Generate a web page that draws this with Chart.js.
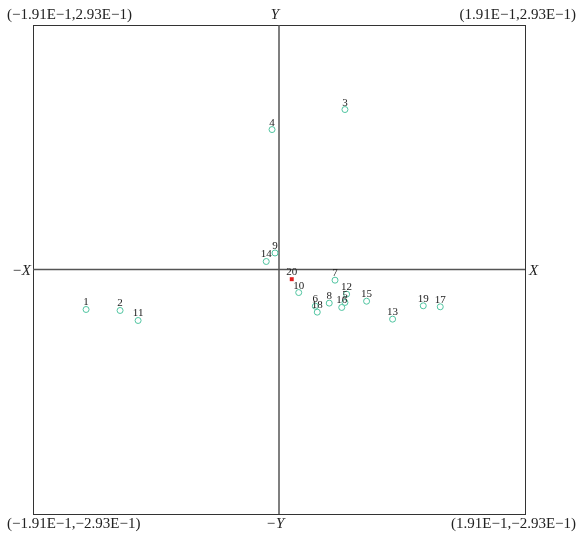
<!DOCTYPE html>
<html>
<head>
<meta charset="utf-8">
<script src="https://cdn.jsdelivr.net/npm/chart.js@4/dist/chart.umd.min.js"></script>
<style>
  html, body { margin: 0; padding: 0; background: #fff; }
  #wrap { width: 577px; height: 534px; position: relative; }
</style>
</head>
<body>
<div id="wrap"><canvas id="mainChart"></canvas></div>
<script>
const pointNames = ['1','2','3','4','5','6','7','8','9','10','11','12','13','14','15','16','17','18','19'];
const xValues = [-0.1498, -0.1234, 0.0512, -0.0054, 0.0512, 0.0282, 0.0435, 0.0390, -0.0031, 0.0153,
                 -0.1094, 0.0525, 0.0882, -0.0099, 0.0680, 0.0487, 0.1252, 0.0297, 0.1120];
const yValues = [-0.0479, -0.0491, 0.1917, 0.1677, -0.0395, -0.0440, -0.0128, -0.0403, 0.0198, -0.0276,
                 -0.0611, -0.0296, -0.0595, 0.0096, -0.0380, -0.0455, -0.0447, -0.0511, -0.0435];
const centreName = ['20'];
const centreX = [0.0099];
const centreY = [-0.0116];
const xRange = [-0.191, 0.191];
const yRange = [-0.293, 0.293];
const cornerLabels = ['(\u22121.91E\u22121,2.93E\u22121)', '(1.91E\u22121,2.93E\u22121)',
                      '(\u22121.91E\u22121,\u22122.93E\u22121)', '(1.91E\u22121,\u22122.93E\u22121)'];
const axisNames = ['X', '\u2212X', 'Y', '\u2212Y'];

const serif = '"Liberation Serif", "Times New Roman", serif';

// frame, cross and all the text
const decorPlugin = {
    id: 'decor',
    beforeDatasetsDraw(chart) {
        const ctx = chart.ctx;
        const a = chart.chartArea;
        const x0 = chart.scales.x.getPixelForValue(0);
        const y0 = chart.scales.y.getPixelForValue(0);
        ctx.save();
        ctx.strokeStyle = '#333';
        ctx.lineWidth = 1;
        ctx.strokeRect(a.left + 0.5, a.top + 0.5, a.right - a.left, a.bottom - a.top);
        ctx.strokeStyle = '#555';
        ctx.lineWidth = 1.5;
        ctx.beginPath();
        ctx.moveTo(a.left, y0); ctx.lineTo(a.right, y0);
        ctx.moveTo(x0, a.top); ctx.lineTo(x0, a.bottom);
        ctx.stroke();

        ctx.fillStyle = '#222';
        ctx.font = '15px ' + serif;
        ctx.textBaseline = 'alphabetic';
        ctx.textAlign = 'left';
        ctx.fillText(cornerLabels[0], 7, 19);
        ctx.fillText(cornerLabels[2], 7, 528);
        ctx.textAlign = 'right';
        ctx.fillText(cornerLabels[1], 576, 19);
        ctx.fillText(cornerLabels[3], 576, 528);

        ctx.font = 'italic 15px ' + serif;
        ctx.textAlign = 'left';
        ctx.fillText(axisNames[0], a.right + 4, y0 + 5);
        ctx.textAlign = 'right';
        ctx.fillText(axisNames[1], a.left - 2, y0 + 5);
        ctx.textAlign = 'center';
        ctx.fillText(axisNames[2], x0 - 4, 19);
        ctx.fillText(axisNames[3], x0 - 4, 528);
        ctx.restore();
    },
    afterDatasetsDraw(chart) {
        const ctx = chart.ctx;
        ctx.save();
        ctx.fillStyle = '#222';
        ctx.font = '11px ' + serif;
        ctx.textAlign = 'center';
        ctx.textBaseline = 'alphabetic';
        chart.data.datasets.forEach((ds, i) => {
            const meta = chart.getDatasetMeta(i);
            meta.data.forEach((pt, j) => {
                ctx.fillText(ds.names[j], pt.x, pt.y - 4);
            });
        });
        ctx.restore();
    }
};

function initializeChart() {
    const ctx = document.getElementById('mainChart').getContext('2d');
    new Chart(ctx, {
        type: 'scatter',
        data: {
            datasets: [{
                label: 'points',
                names: pointNames,
                data: xValues.map((x, i) => ({ x: x, y: yValues[i] })),
                pointStyle: 'circle',
                pointRadius: 3,
                borderWidth: 1,
                borderColor: '#4fc4a0',
                backgroundColor: '#fff'
            }, {
                label: 'centre',
                names: centreName,
                data: centreX.map((x, i) => ({ x: x, y: centreY[i] })),
                pointStyle: 'rect',
                pointRadius: 2.8,
                borderWidth: 0,
                borderColor: '#e02020',
                backgroundColor: '#e02020'
            }]
        },
        options: {
            responsive: true,
            maintainAspectRatio: false,
            animation: false,
            layout: { padding: { left: 33, right: 52, top: 25, bottom: 20 } },
            plugins: { legend: { display: false }, tooltip: { enabled: false } },
            scales: {
                x: { type: 'linear', min: xRange[0], max: xRange[1], display: false },
                y: { type: 'linear', min: yRange[0], max: yRange[1], display: false }
            }
        },
        plugins: [decorPlugin]
    });
}

document.addEventListener('DOMContentLoaded', initializeChart);
</script>
</body>
</html>
